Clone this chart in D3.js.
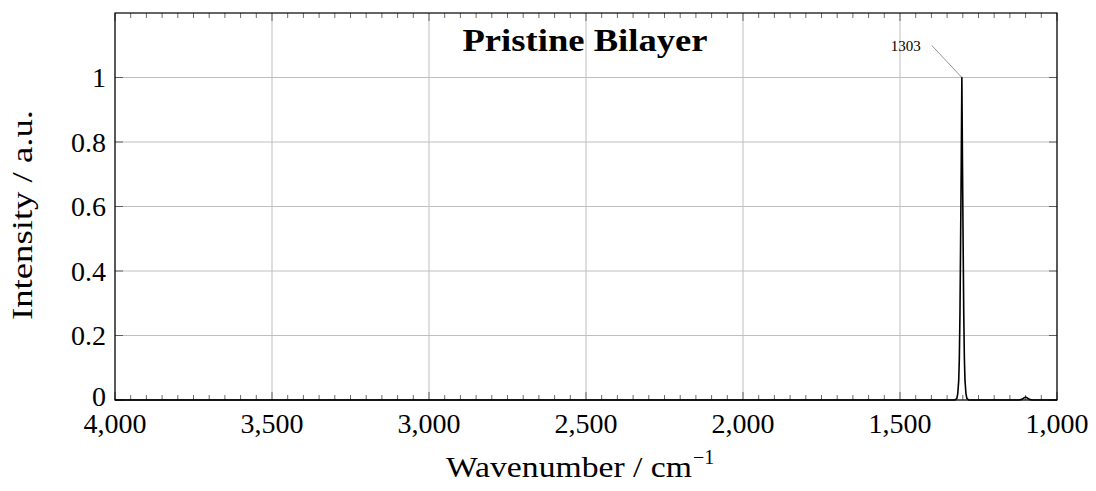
<!DOCTYPE html>
<html>
<head>
<meta charset="utf-8">
<script src="https://cdnjs.cloudflare.com/ajax/libs/d3/7.8.5/d3.min.js"></script>
<style>
  body { margin: 0; background: #fff; }
  text { font-family: "Liberation Serif", "DejaVu Serif", serif; fill: #000; }
</style>
</head>
<body>
<svg id="chart" width="1096" height="491"></svg>
<script>
// spectrum (wavenumber in cm^-1, intensity in a.u.)
var wavenumber = [4000, 1340, 1325, 1319, 1316, 1313, 1311, 1309, 1307, 1305, 1303,
                  1301, 1299, 1297, 1295, 1293, 1290, 1287, 1281, 1266,
                  1122, 1112, 1106, 1100, 1094, 1088, 1078, 1000];
var intensity  = [0, 0, 0, 0.005, 0.02, 0.06, 0.13, 0.27, 0.49, 0.73, 1,
                  0.73, 0.49, 0.27, 0.13, 0.06, 0.02, 0.005, 0, 0,
                  0, 0.002, 0.006, 0.009, 0.006, 0.002, 0, 0];

var xTicks = [4000, 3500, 3000, 2500, 2000, 1500, 1000];
var yTicks = [0, 0.2, 0.4, 0.6, 0.8, 1];
var peakLabel = { wavenumber: 1303, intensity: 1, text: "1303" };

var svg = d3.select("#chart"),
    margin = {top: 13, right: 39, bottom: 91, left: 115},
    width = +svg.attr("width"),
    height = +svg.attr("height");

var x = d3.scaleLinear()
    .domain([4000, 1000])
    .range([margin.left, width - margin.right]);
var y = d3.scaleLinear()
    .domain([0, 1.2])
    .range([height - margin.bottom, margin.top]);

var x0 = x.range()[0], x1 = x.range()[1],
    y0 = y.range()[0], y1 = y.range()[1];

// grid
svg.append("g").selectAll("line")
    .data(xTicks)
  .enter().append("line")
    .attr("x1", function(d) { return x(d); })
    .attr("x2", function(d) { return x(d); })
    .attr("y1", y0).attr("y2", y1)
    .attr("stroke", "#bfbfbf").attr("stroke-width", 1);
svg.append("g").selectAll("line")
    .data(yTicks)
  .enter().append("line")
    .attr("x1", x0).attr("x2", x1)
    .attr("y1", function(d) { return y(d); })
    .attr("y2", function(d) { return y(d); })
    .attr("stroke", "#bfbfbf").attr("stroke-width", 1);

// minor ticks on x, top and bottom
var minor = d3.range(4000, 999, -50).filter(function(d) { return d % 500 !== 0; });
var ticks = svg.append("g").attr("stroke", "#444").attr("stroke-width", 0.8);
minor.forEach(function(d) {
  ticks.append("line").attr("x1", x(d)).attr("x2", x(d)).attr("y1", y0).attr("y2", y0 - 5);
  ticks.append("line").attr("x1", x(d)).attr("x2", x(d)).attr("y1", y1).attr("y2", y1 + 5);
});
xTicks.forEach(function(d) {
  ticks.append("line").attr("x1", x(d)).attr("x2", x(d)).attr("y1", y0).attr("y2", y0 - 8);
  ticks.append("line").attr("x1", x(d)).attr("x2", x(d)).attr("y1", y1).attr("y2", y1 + 8);
});
yTicks.forEach(function(d) {
  ticks.append("line").attr("x1", x0).attr("x2", x0 + 8).attr("y1", y(d)).attr("y2", y(d));
  ticks.append("line").attr("x1", x1).attr("x2", x1 - 8).attr("y1", y(d)).attr("y2", y(d));
});

// spectrum
var line = d3.line()
    .x(function(d, i) { return x(wavenumber[i]); })
    .y(function(d) { return y(d); });
svg.append("path")
    .datum(intensity)
    .attr("d", line)
    .attr("fill", "none")
    .attr("stroke", "#000")
    .attr("stroke-width", 1.6)
    .attr("stroke-linejoin", "round");

// frame
svg.append("rect")
    .attr("x", x0).attr("y", y1)
    .attr("width", x1 - x0).attr("height", y0 - y1)
    .attr("fill", "none").attr("stroke", "#000").attr("stroke-width", 1.2);

// tick labels
var fmt = d3.format(",");
svg.append("g").selectAll("text")
    .data(xTicks)
  .enter().append("text")
    .attr("x", function(d) { return x(d); })
    .attr("y", y0 + 33)
    .attr("text-anchor", "middle")
    .style("font-size", "28px")
    .text(function(d) { return fmt(d); });
svg.append("g").selectAll("text")
    .data(yTicks)
  .enter().append("text")
    .attr("x", x0 - 9)
    .attr("y", function(d) { return y(d); })
    .attr("dy", function(d) { return d === 0 ? "0.22em" : "0.34em"; })
    .attr("text-anchor", "end")
    .style("font-size", "28px")
    .text(function(d) { return d; });

// axis labels
svg.append("text")
    .attr("x", 446)
    .attr("y", 477)
    .style("font-size", "30px")
    .attr("textLength", 246)
    .attr("lengthAdjust", "spacingAndGlyphs")
    .text("Wavenumber / cm");
svg.append("text")
    .attr("x", 693)
    .attr("y", 464)
    .style("font-size", "20px")
    .text("\u22121");

svg.append("text")
    .attr("transform", "translate(32,215) rotate(-90)")
    .attr("text-anchor", "middle")
    .style("font-size", "30px")
    .attr("textLength", 210)
    .attr("lengthAdjust", "spacingAndGlyphs")
    .text("Intensity / a.u.");

// title
svg.append("text")
    .attr("x", 585)
    .attr("y", 51)
    .attr("text-anchor", "middle")
    .style("font-size", "32px")
    .style("font-weight", "bold")
    .attr("textLength", 245)
    .attr("lengthAdjust", "spacingAndGlyphs")
    .text("Pristine Bilayer");

// peak annotation
var px = x(peakLabel.wavenumber), py = y(peakLabel.intensity);
svg.append("line")
    .attr("x1", px - 30).attr("y1", py - 32)
    .attr("x2", px).attr("y2", py)
    .attr("stroke", "#777").attr("stroke-width", 0.8);
svg.append("text")
    .attr("x", px - 41).attr("y", py - 27)
    .attr("text-anchor", "end")
    .style("font-size", "15px")
    .text(peakLabel.text);
</script>
</body>
</html>
